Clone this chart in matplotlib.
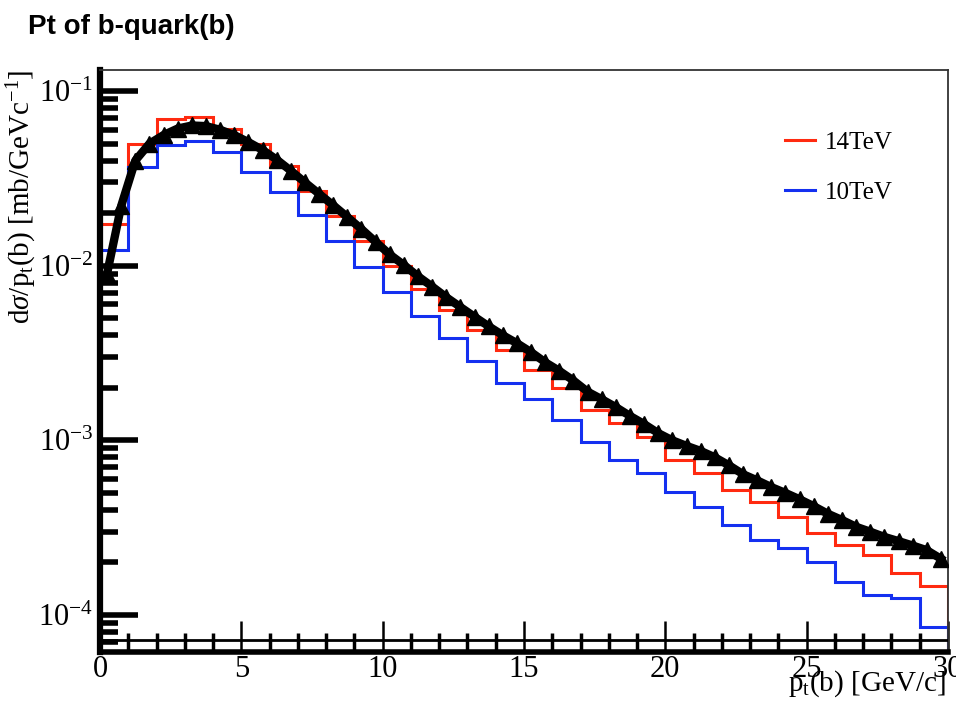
import numpy as np
import matplotlib
matplotlib.use('Agg')
import matplotlib.pyplot as plt
from matplotlib.ticker import MultipleLocator, LogLocator, NullFormatter

plt.rcParams['font.family'] = ['Liberation Serif', 'DejaVu Serif']
plt.rcParams['mathtext.fontset'] = 'custom'
plt.rcParams['mathtext.rm'] = 'Liberation Serif'
plt.rcParams['mathtext.it'] = 'Liberation Serif:italic'

# 1 GeV bins from 0 to 30
bin_edges = list(range(0, 31))

pt14 = [0.0173, 0.0497, 0.069, 0.071, 0.0605, 0.0497, 0.0371, 0.0267, 0.0192, 0.01377,
        0.0099, 0.00731, 0.00561, 0.00426, 0.0033, 0.00254, 0.0020, 0.0015, 0.00126, 0.00104,
        0.000774, 0.000652, 0.000521, 0.000445, 0.000365, 0.000295, 0.000252, 0.000221, 0.000174, 0.000147]

pt10 = [0.01225, 0.0366, 0.0490, 0.0516, 0.0447, 0.0343, 0.0263, 0.0195, 0.01377, 0.00977,
        0.00703, 0.00512, 0.00388, 0.00283, 0.00214, 0.00173, 0.00130, 0.00098, 0.000774, 0.000652,
        0.000507, 0.000416, 0.000328, 0.000269, 0.000242, 0.000201, 0.000155, 0.00013, 0.000125, 0.000085]

# fine binned points (0.5 GeV)
fine_x = [0.25, 0.75, 1.25, 1.75, 2.25, 2.75, 3.25, 3.75, 4.25, 4.75,
          5.25, 5.75, 6.25, 6.75, 7.25, 7.75, 8.25, 8.75, 9.25, 9.75,
          10.25, 10.75, 11.25, 11.75, 12.25, 12.75, 13.25, 13.75, 14.25, 14.75,
          15.25, 15.75, 16.25, 16.75, 17.25, 17.75, 18.25, 18.75, 19.25, 19.75,
          20.25, 20.75, 21.25, 21.75, 22.25, 22.75, 23.25, 23.75, 24.25, 24.75,
          25.25, 25.75, 26.25, 26.75, 27.25, 27.75, 28.25, 28.75, 29.25, 29.75]
fine_y = [0.0090, 0.0220, 0.0400, 0.0500, 0.0560, 0.0610, 0.0635, 0.0630, 0.0600, 0.0560,
          0.0510, 0.0460, 0.0405, 0.0350, 0.0300, 0.0258, 0.0222, 0.0190, 0.0162, 0.0137,
          0.0116, 0.0101, 0.0087, 0.0076, 0.0066, 0.0058, 0.0051, 0.0045, 0.0040, 0.0036,
          0.0032, 0.0028, 0.0025, 0.0022, 0.0019, 0.00172, 0.00155, 0.00138, 0.00124, 0.00110,
          0.00100, 0.00093, 0.00087, 0.00080, 0.00072, 0.00064, 0.00059, 0.00054, 0.00050, 0.00046,
          0.00042, 0.00038, 0.00035, 0.00032, 0.00030, 0.00028, 0.000265, 0.00025, 0.000235, 0.00021]

fig = plt.figure(figsize=(9.56, 7.02), dpi=100)
ax = fig.add_axes([0.1046, 0.0712, 0.887, 0.8291])

ax.plot(fine_x, fine_y, color='black', lw=6, zorder=3)
ax.plot(fine_x, fine_y, ls='none', marker='^', ms=12, color='black', zorder=4)
ax.stairs(pt14, bin_edges, color='#ff2a10', lw=2.2, label='14TeV', zorder=2)
ax.stairs(pt10, bin_edges, color='#1430f0', lw=2.2, label='10TeV', zorder=2)

ax.set_yscale('log')
ax.set_xlim(0, 30)
ax.set_ylim(6.14e-5, 0.132)

# second frame line near the bottom
ax.axhline(7.2e-5, color='black', lw=2, zorder=5)

ax.xaxis.set_major_locator(MultipleLocator(5))
ax.xaxis.set_minor_locator(MultipleLocator(1))
ax.yaxis.set_major_locator(LogLocator(base=10))
ax.yaxis.set_minor_locator(LogLocator(base=10, subs=np.arange(2, 10)))
ax.yaxis.set_minor_formatter(NullFormatter())

ax.tick_params(axis='x', which='major', direction='in', length=22, width=1.8,
               labelsize=22, pad=2, top=False)
ax.tick_params(axis='x', which='minor', direction='in', length=14, width=2.5, top=False)
ax.tick_params(axis='y', which='major', direction='in', length=27, width=4,
               labelsize=22, pad=5, right=False)
ax.tick_params(axis='y', which='minor', direction='in', length=13, width=4, right=False)

ax.spines['left'].set_linewidth(4.5)
ax.spines['bottom'].set_linewidth(4)
ax.spines['top'].set_linewidth(1.3)
ax.spines['right'].set_linewidth(1.3)
ax.spines['top'].set_color('#333333')
ax.spines['right'].set_color('#333333')

ax.set_xlabel(r'p$_{\rm t}$(b) [GeV/c]', fontsize=21, loc='right')
ax.xaxis.set_label_coords(0.997, -0.028)
ax.set_ylabel(r'd$\sigma$/p$_{\rm t}$(b) [mb/GeVc$^{-1}$]', fontsize=21, loc='top')
ax.yaxis.set_label_coords(-0.072, 1.0)

ax.legend(loc='upper left', bbox_to_anchor=(0.808, 0.894), frameon=False,
          fontsize=18, handlelength=1.2, handletextpad=0.4, labelspacing=1.1,
          borderpad=0, borderaxespad=0)

fig.text(28 / 956, 1 - 27 / 702, 'Pt of b-quark(b)', fontsize=20, fontweight='bold',
         family='Liberation Sans', va='center', ha='left')

fig.savefig('out.png', dpi=100)
